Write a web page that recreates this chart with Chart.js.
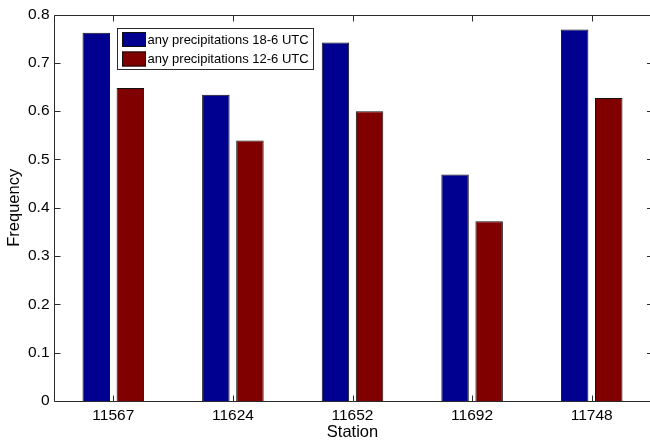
<!DOCTYPE html>
<html lang="en">
<head>
    <meta charset="UTF-8">
    <title>Precipitation frequency by station</title>
    <script src="https://cdn.jsdelivr.net/npm/chart.js"></script>
    <style>
        html, body { margin: 0; padding: 0; background: #fff; overflow: hidden; }
        #wrap { width: 654px; height: 445px; }
    </style>
</head>
<body>
    <div id="wrap"><canvas id="freq-chart" width="654" height="445"></canvas></div>

    <script>
        const stations = ['11567', '11624', '11652', '11692', '11748'];
        const precip18to6 = [0.762, 0.634, 0.742, 0.469, 0.769];
        const precip12to6 = [0.648, 0.539, 0.600, 0.372, 0.627];
        const yTicks = [0, 0.1, 0.2, 0.3, 0.4, 0.5, 0.6, 0.7, 0.8];

        const FONT = '"Liberation Sans", Arial, Helvetica, sans-serif';

        // matlab style box: frame, inward ticks, legend inside the axes
        const matlabAxes = {
            id: 'matlabAxes',
            afterDatasetsDraw(chart) {
                const ctx = chart.ctx;
                const a = chart.chartArea;
                const x = chart.scales.x;
                const y = chart.scales.y;
                const left = Math.round(a.left) + 0.5;
                const top = Math.round(a.top) + 0.5;
                const bottom = Math.round(a.bottom) + 0.5;
                const right = 652;   // right side of the box falls just outside the picture
                ctx.save();
                ctx.strokeStyle = '#2b2b2b';
                ctx.lineWidth = 1;
                ctx.beginPath();
                ctx.moveTo(right, top); ctx.lineTo(left, top);
                ctx.lineTo(left, bottom); ctx.lineTo(right, bottom);
                yTicks.forEach(v => {
                    const py = Math.round(y.getPixelForValue(v)) + 0.5;
                    ctx.moveTo(left, py); ctx.lineTo(left + 6, py);
                    ctx.moveTo(right, py); ctx.lineTo(right - 5, py);
                });
                stations.forEach((s, i) => {
                    const px = Math.round(x.getPixelForValue(i)) + 0.5;
                    ctx.moveTo(px, top); ctx.lineTo(px, top + 6);
                    ctx.moveTo(px, bottom); ctx.lineTo(px, bottom - 6);
                });
                ctx.stroke();
                ctx.restore();
            },
            afterDraw(chart) {
                const ctx = chart.ctx;
                const sets = chart.data.datasets;
                const box = { x: 117.5, y: 28.5, w: 196, h: 41 };
                ctx.save();
                ctx.fillStyle = '#fff';
                ctx.fillRect(box.x, box.y, box.w, box.h);
                ctx.strokeStyle = '#2b2b2b';
                ctx.lineWidth = 1;
                ctx.strokeRect(box.x, box.y, box.w, box.h);
                ctx.font = '13px ' + FONT;
                ctx.textBaseline = 'middle';
                sets.forEach((ds, i) => {
                    const top = 32 + i * 19.5;
                    ctx.fillStyle = ds.backgroundColor;
                    ctx.fillRect(122, top, 24, 15);
                    ctx.strokeStyle = '#111';
                    ctx.strokeRect(122.5, top + 0.5, 23, 14);
                    ctx.fillStyle = '#000';
                    ctx.fillText(ds.label, 147.5, top + 8);
                });
                ctx.restore();
            }
        };

        new Chart(document.getElementById('freq-chart'), {
            type: 'bar',
            data: {
                labels: stations,
                datasets: [
                    {
                        label: 'any precipitations 18-6 UTC',
                        data: precip18to6,
                        backgroundColor: '#000090',
                        borderColor: '#111',
                        borderWidth: 1
                    },
                    {
                        label: 'any precipitations 12-6 UTC',
                        data: precip12to6,
                        backgroundColor: '#800000',
                        borderColor: '#111',
                        borderWidth: 1
                    }
                ]
            },
            options: {
                responsive: false,
                animation: false,
                layout: { padding: { top: 14.5, right: 2.5, bottom: 0, left: 0 } },
                datasets: { bar: { categoryPercentage: 0.57, barPercentage: 0.806 } },
                plugins: {
                    legend: { display: false },
                    tooltip: { enabled: false }
                },
                scales: {
                    x: {
                        offset: true,
                        grid: { display: false, drawTicks: false },
                        border: { display: false },
                        ticks: { color: '#000', font: { family: FONT, size: 15.5 }, padding: 5 },
                        title: {
                            display: true, text: 'Station', color: '#000',
                            font: { family: FONT, size: 16.5 },
                            padding: { top: 0, bottom: 3 }
                        },
                        afterFit(scale) { scale.height = 44; }
                    },
                    y: {
                        min: 0,
                        max: 0.8,
                        grid: { display: false, drawTicks: false },
                        border: { display: false },
                        ticks: {
                            stepSize: 0.1,
                            color: '#000',
                            padding: 4,
                            font: { family: FONT, size: 15.5 },
                            callback: v => (v === 0 ? '0' : v.toFixed(1))
                        },
                        title: {
                            display: true, text: 'Frequency', color: '#000',
                            font: { family: FONT, size: 16.5 },
                            padding: { top: 5, bottom: 0 }
                        },
                        afterFit(scale) { scale.width = 53.5; }
                    }
                }
            },
            plugins: [matlabAxes]
        });
    </script>
</body>
</html>
